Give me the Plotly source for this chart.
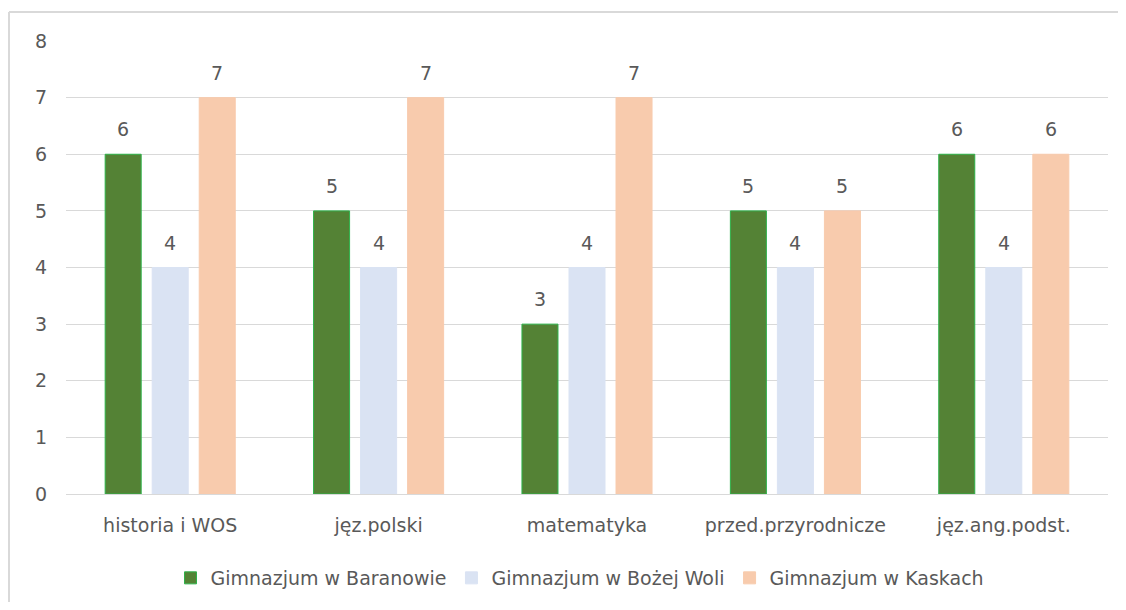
import plotly.graph_objects as go

categories = ["historia i WOS", "jęz.polski", "matematyka", "przed.przyrodnicze", "jęz.ang.podst."]
series_names = ["Gimnazjum w Baranowie", "Gimnazjum w Bożej Woli", "Gimnazjum w Kaskach"]
baranow = [6, 5, 3, 5, 6]
bozawola = [4, 4, 4, 4, 4]
kaski = [7, 7, 7, 5, 6]
y_ticks = [0, 1, 2, 3, 4, 5, 6, 7, 8]

fills = ["#548235", "#DAE3F3", "#F8CBAD"]
outlines = ["#2EB24A", "#DAE3F3", "#F8CBAD"]
font_family = "DejaVu Sans"
font_size = 19
text_color = "#595959"

# page body has an 8px margin, so the figure is sized/offset to compensate
OFF = 8
W, H = 1126 - 2 * OFF, 610 - 2 * OFF
ml, mr, mt, mb = 66 - OFF, W - (1108 - OFF), 41 - OFF, H - (494 - OFF)

fig = go.Figure()
all_series = [baranow, bozawola, kaski]
for i, (name, vals) in enumerate(zip(series_names, all_series)):
    fig.add_trace(go.Bar(
        x=categories, y=vals, name=name,
        marker=dict(color=fills[i], line=dict(color=outlines[i], width=1)),
        hoverinfo="x+y+name",
    ))

bargap = 0.323
bargroupgap = 0.234
cat_px = (W - ml - mr) / len(categories)
pitch = cat_px * (1 - bargap) / 3

annotations = []
for i, vals in enumerate(all_series):
    for c, v in zip(categories, vals):
        annotations.append(dict(
            x=c, y=v, xref="x", yref="y", text=str(v), showarrow=False,
            xshift=(i - 1) * pitch, yshift=25,
            font=dict(family=font_family, size=font_size, color=text_color),
        ))

pw = W - ml - mr
ph = H - mt - mb
def px2x(px):
    return (px - OFF - ml) / pw
def py2y(py):
    return (H - mb - (py - OFF)) / ph

shapes = [
    dict(type="line", xref="paper", yref="paper", x0=px2x(9), x1=px2x(9), y0=py2y(12), y1=py2y(630),
         line=dict(color="#D9D9D9", width=2)),
    dict(type="line", xref="paper", yref="paper", x0=px2x(9), x1=px2x(1140), y0=py2y(12), y1=py2y(12),
         line=dict(color="#D9D9D9", width=2)),
]

fig.update_layout(
    width=W, height=H,
    margin=dict(l=ml, r=mr, t=mt, b=mb, autoexpand=False),
    paper_bgcolor="white", plot_bgcolor="white",
    barmode="group", bargap=bargap, bargroupgap=bargroupgap,
    font=dict(family=font_family, size=font_size, color=text_color),
    showlegend=True,
    legend=dict(orientation="h", x=px2x(580), xanchor="center", y=py2y(578), yanchor="middle",
                font=dict(family=font_family, size=font_size, color=text_color),
                itemwidth=30, traceorder="normal"),
    annotations=annotations,
    shapes=shapes,
    xaxis=dict(showgrid=False, showline=True, linecolor="#D9D9D9", linewidth=1,
               ticks="outside", ticklen=14, tickcolor="rgba(0,0,0,0)", automargin=False,
               tickfont=dict(family=font_family, size=font_size, color=text_color)),
    yaxis=dict(range=[0, 8], tickvals=y_ticks, showgrid=True, gridcolor="#D9D9D9", gridwidth=1,
               zeroline=False, showline=False, ticks="outside", ticklen=14, tickcolor="rgba(0,0,0,0)",
               automargin=False,
               tickfont=dict(family=font_family, size=font_size, color=text_color)),
)

fig.write_html("out.html")
